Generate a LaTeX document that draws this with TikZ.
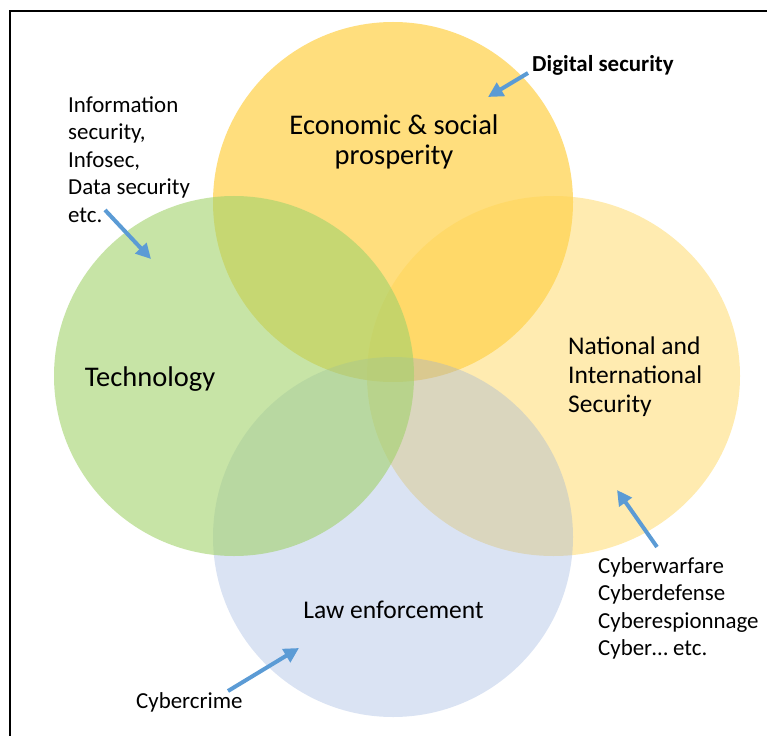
\documentclass[tikz,border=0pt]{standalone}
\usepackage{fontspec}
\setmainfont{Carlito}
\usetikzlibrary{arrows.meta}
\definecolor{cgold}{RGB}{255,192,0}
\definecolor{corange}{RGB}{255,211,82}
\definecolor{cgreen}{RGB}{162,210,107}
\definecolor{cblue}{RGB}{143,170,220}
\definecolor{carrow}{RGB}{91,155,213}
\tikzset{
  venn/.style={draw=none},
  bigtxt/.style={inner sep=0pt, font=\fontsize{28.5}{29.5}\selectfont},
  midtxt/.style={inner sep=0pt, font=\fontsize{25.5}{29}\selectfont},
  smalltxt/.style={inner sep=0pt, font=\fontsize{22.9}{27.5}\selectfont, align=left},
  pointer/.style={draw=carrow, line width=4pt, -{Triangle[length=15pt,width=15pt]}},
}
\begin{document}
\begin{tikzpicture}[x=1pt,y=-1pt]
\useasboundingbox (0,0) rectangle (767,735);
% frame
\draw[line width=2.5pt] (10,740) -- (10,11) -- (772,11);
% circles
\fill[venn, cgold, fill opacity=0.31] (553.5,376) ellipse[x radius=186.5, y radius=180];
\fill[venn, corange, fill opacity=0.75] (393,202) circle[radius=180];
\fill[venn, cblue, fill opacity=0.33] (393,537) circle[radius=180];
\fill[venn, cgreen, fill opacity=0.6] (234,376) circle[radius=180];
% main labels
\node[bigtxt, align=center, anchor=north] (econ) at (394,115) {Economic \& social\\prosperity};
\node[bigtxt, anchor=base] (tech) at (150,386) {Technology};
\node[midtxt, align=left, anchor=north west] (natl) at (568,337) {National and\\International\\Security};
\node[midtxt, anchor=base] (law) at (393.5,618) {Law enforcement};
% side notes
\node[smalltxt, anchor=north west] (info) at (68,96) {Information\\security,\\Infosec,\\Data security\\etc.};
\node[smalltxt, anchor=base west, font=\fontsize{22.9}{27.5}\selectfont\bfseries] (digi) at (532,72) {Digital security};
\node[smalltxt, anchor=north west] (cyber) at (598,557) {Cyberwarfare\\Cyberdefense\\Cyberespionnage\\Cyber… etc.};
\node[smalltxt, anchor=base west] (crime) at (136,708) {Cybercrime};
% arrow ends
\coordinate (digiT) at (528,73);
\coordinate (digiH) at (488,97);
\coordinate (infoT) at (105,210);
\coordinate (infoH) at (151,259);
\coordinate (cyberT) at (657,547);
\coordinate (cyberH) at (617,490);
\coordinate (crimeT) at (228,691);
\coordinate (crimeH) at (299,648);
\draw[pointer] (digiT) -- (digiH);
\draw[pointer] (infoT) -- (infoH);
\draw[pointer] (cyberT) -- (cyberH);
\draw[pointer] (crimeT) -- (crimeH);
\end{tikzpicture}
\end{document}
